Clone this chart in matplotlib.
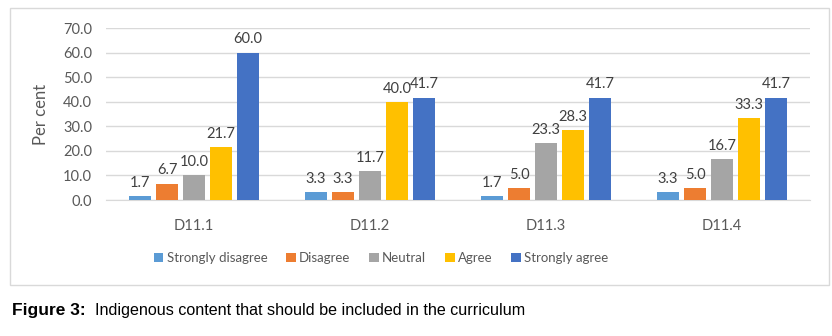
import matplotlib.pyplot as plt
import numpy as np
from matplotlib.patches import Rectangle

categories = ['D11.1', 'D11.2', 'D11.3', 'D11.4']
series = ['Strongly disagree', 'Disagree', 'Neutral', 'Agree', 'Strongly agree']
values = [
    [1.7, 3.3, 1.7, 3.3],
    [6.7, 3.3, 5.0, 5.0],
    [10.0, 11.7, 23.3, 16.7],
    [21.7, 40.0, 28.3, 33.3],
    [60.0, 41.7, 41.7, 41.7],
]
colors = ['#5B9BD5', '#ED7D31', '#A5A5A5', '#FFC000', '#4472C4']

plt.rcParams['font.family'] = ['Lato', 'DejaVu Sans']

W, H = 832, 336
fig = plt.figure(figsize=(W / 100, H / 100), dpi=100)

# outer chart frame
fig.patches.append(Rectangle((10 / W, 1 - 285 / H), 819 / W, 277 / H,
                             transform=fig.transFigure, fill=False,
                             edgecolor='#d9d9d9', linewidth=1))

ax = fig.add_axes([106 / W, 1 - 200 / H, 704 / W, 172 / H])
x = np.arange(len(categories))
step = 0.153
width = 0.122
for i, (name, vals) in enumerate(zip(series, values)):
    pos = x + (i - 2) * step
    bars = ax.bar(pos, vals, width, color=colors[i], label=name, zorder=3)
    for b, v in zip(bars, vals):
        ax.text(b.get_x() + b.get_width() / 2, v + 2.5, f'{v:.1f}',
                ha='center', va='bottom', fontsize=10.5, color='#404040')

ax.set_xlim(-0.5, 3.5)
ax.set_ylim(0, 70)
ax.set_yticks(np.arange(0, 71, 10))
ax.set_yticklabels([f'{t:.1f}' for t in range(0, 71, 10)], fontsize=10.5, color='#595959')
ax.set_xticks(x)
ax.set_xticklabels(categories, fontsize=10.5, color='#595959')
ax.tick_params(axis='y', length=0, pad=10)
ax.tick_params(axis='x', length=0, pad=14)
ax.grid(axis='y', color='#d9d9d9', linewidth=1, zorder=0)
for s in ['top', 'right', 'left']:
    ax.spines[s].set_visible(False)
ax.spines['bottom'].set_color('#d9d9d9')
ax.set_ylabel('Per cent', fontsize=12, color='#595959', labelpad=10)

fig.legend(loc='center', bbox_to_anchor=(381 / W, 1 - 258 / H), ncol=5,
           frameon=False, fontsize=9.5, handlelength=0.75, handleheight=0.75,
           handletextpad=0.25, columnspacing=1.4, labelcolor='#595959')

fig.text(12 / W, 1 - 310 / H, 'Figure 3:', fontsize=12.5, fontweight='bold',
         family='Liberation Sans', va='center')
fig.text(95 / W, 1 - 310 / H, 'Indigenous content that should be included in the curriculum',
         fontsize=11.6, family='Liberation Sans', va='center')

fig.savefig('out.png', dpi=100)
